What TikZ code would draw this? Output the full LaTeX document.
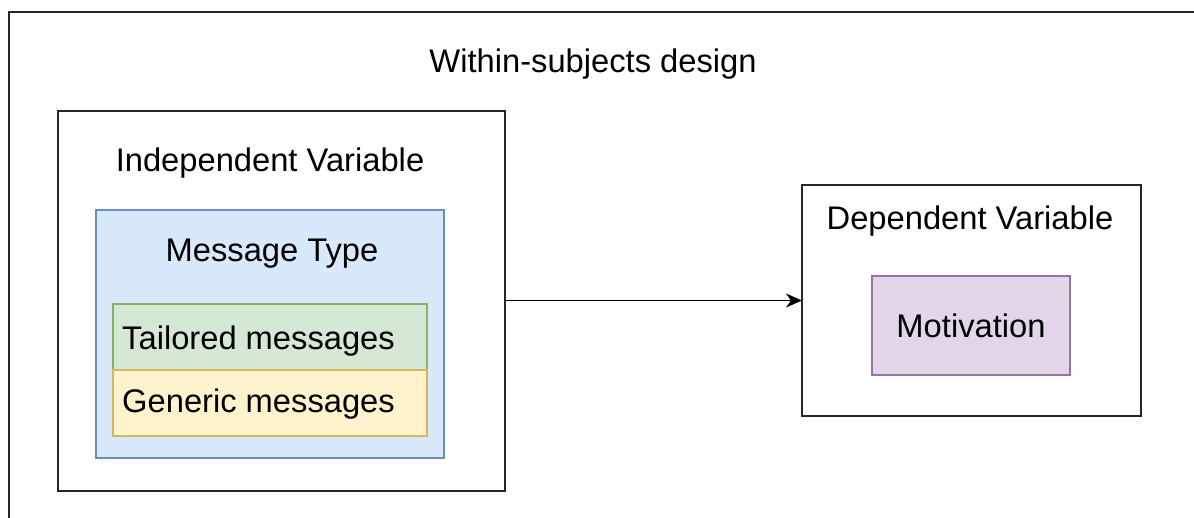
\documentclass[tikz,border=0pt]{standalone}
\usepackage{fontspec}
\setmainfont{Liberation Sans}
\usetikzlibrary{arrows.meta}
\definecolor{bluefill}{HTML}{DAE8FC}
\definecolor{bluedraw}{HTML}{6C8EBF}
\definecolor{greenfill}{HTML}{D5E8D4}
\definecolor{greendraw}{HTML}{82B366}
\definecolor{yellowfill}{HTML}{FFF2CC}
\definecolor{yellowdraw}{HTML}{D6B656}
\definecolor{purplefill}{HTML}{E1D5E7}
\definecolor{purpledraw}{HTML}{9673A6}
\tikzset{
  lbl/.style={font=\fontsize{32.7}{39}\selectfont, inner sep=0pt, text height=23.5pt, text depth=0pt, anchor=center},
  frame/.style={draw=black!85, line width=2pt},
  cbox/.style={line width=1.6pt},
}
\begin{document}
\begin{tikzpicture}[x=1pt,y=-1pt]
\useasboundingbox (0,0) rectangle (1194,518);
\fill[white] (0,0) rectangle (1194,518);
\begin{scope}
\clip (0,0) rectangle (1194,518);
\draw[frame] (9,12) rectangle (1210,540);
\end{scope}
\node[lbl] (title) at (593,61) {Within-subjects design};
% independent box
\draw[frame] (58,111) rectangle (505,491);
\coordinate (ivright) at (505,300.5);
\node[lbl] (ivlbl) at (270,160) {Independent Variable};
\draw[cbox, fill=bluefill, draw=bluedraw] (96,210) rectangle (444,458);
\node[lbl] (mt) at (272,250) {Message Type};
\draw[cbox, fill=greenfill, draw=greendraw] (113,304) rectangle (427,370);
\draw[cbox, fill=yellowfill, draw=yellowdraw] (113,370) rectangle (427,436);
\node[lbl, anchor=west] (tail) at (122,338) {Tailored messages};
\node[lbl, anchor=west] (gen) at (122,401) {Generic messages};
% dependent box
\draw[frame] (802,185) rectangle (1141,416);
\coordinate (dvleft) at (802,300.5);
\node[lbl] (dvlbl) at (970,218) {Dependent Variable};
\draw[cbox, fill=purplefill, draw=purpledraw] (872,276) rectangle (1070,375);
\node[lbl] (mot) at (971,326) {Motivation};
% arrow
\draw[line width=1.6pt, -{Stealth[length=16pt,width=14pt,inset=5pt]}] (ivright) -- (dvleft);
\end{tikzpicture}
\end{document}
